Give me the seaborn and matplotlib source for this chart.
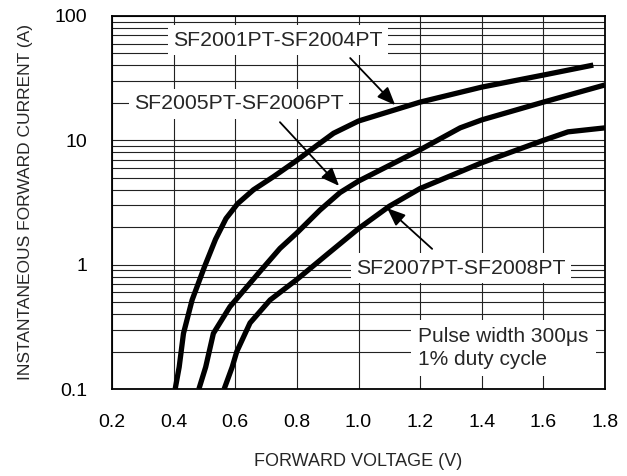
import matplotlib
matplotlib.use("Agg")
import matplotlib.pyplot as plt
from matplotlib.ticker import FixedLocator, FixedFormatter, LogLocator, NullFormatter
import seaborn as sns
import pandas as pd

# forward voltage (V) / instantaneous forward current (A)
vf_2001 = [0.405, 0.418, 0.432, 0.46, 0.5, 0.536, 0.57, 0.608, 0.659, 0.724, 0.8, 0.865, 0.919,
           1.0, 1.2, 1.4, 1.6, 1.762]
if_2001 = [0.1, 0.15, 0.28, 0.52, 0.96, 1.6, 2.35, 3.1, 4.0, 5.1, 6.9, 9.1, 11.4,
           14.3, 20.3, 26.8, 33.5, 40.3]

vf_2005 = [0.482, 0.504, 0.529, 0.583, 0.648, 0.68, 0.745, 0.8, 0.875, 0.94, 1.0,
           1.2, 1.33, 1.4, 1.6, 1.8]
if_2005 = [0.1, 0.15, 0.28, 0.46, 0.71, 0.88, 1.35, 1.8, 2.75, 3.8, 4.7,
           8.4, 12.6, 14.6, 20.3, 27.9]

vf_2007 = [0.564, 0.59, 0.605, 0.648, 0.713, 0.8, 0.9, 1.0, 1.1, 1.2, 1.4, 1.6, 1.68, 1.8]
if_2007 = [0.1, 0.15, 0.2, 0.34, 0.52, 0.76, 1.22, 1.95, 2.95, 4.1, 6.6, 10.0, 11.7, 12.6]

x_ticks = [0.2, 0.4, 0.6, 0.8, 1.0, 1.2, 1.4, 1.6, 1.8]
x_tick_labels = ["0.2", "0.4", "0.6", "0.8", "1.0", "1.2", "1.4", "1.6", "1.8"]
y_ticks = [0.1, 1, 10, 100]
y_tick_labels = ["0.1", "1", "10", "100"]

sns.set_style("white")
plt.rcParams["font.family"] = ["Liberation Sans", "DejaVu Sans"]

fig = plt.figure(figsize=(6.27, 4.76), dpi=100)
ax = fig.add_axes([112 / 627, 1 - 389 / 476, 493 / 627, 373 / 476])

series = [
    ("SF2001PT-SF2004PT", vf_2001, if_2001),
    ("SF2005PT-SF2006PT", vf_2005, if_2005),
    ("SF2007PT-SF2008PT", vf_2007, if_2007),
]
for name, vf, cur in series:
    df = pd.DataFrame({"vf": vf, "if": cur})
    sns.lineplot(data=df, x="vf", y="if", ax=ax, color="black", lw=3.8,
                 sort=False, zorder=5, solid_capstyle="butt", solid_joinstyle="round")

ax.set_yscale("log")
ax.set_xlim(0.2, 1.8)
ax.set_ylim(0.1, 100)

ax.xaxis.set_major_locator(FixedLocator(x_ticks))
ax.xaxis.set_major_formatter(FixedFormatter(x_tick_labels))
ax.yaxis.set_major_locator(FixedLocator(y_ticks))
ax.yaxis.set_major_formatter(FixedFormatter(y_tick_labels))
ax.yaxis.set_minor_locator(LogLocator(base=10, subs=range(2, 10)))
ax.yaxis.set_minor_formatter(NullFormatter())

ax.grid(True, which="major", axis="both", color="#222222", lw=0.8)
ax.grid(True, which="minor", axis="y", color="#222222", lw=0.8)
ax.tick_params(which="both", length=0, labelsize=14, pad=18, colors="black")
for s in ax.spines.values():
    s.set_color("black")
    s.set_linewidth(1.3)
    s.set_zorder(6)

ax.set_xlabel("FORWARD VOLTAGE (V)", fontsize=13)
ax.set_ylabel("INSTANTANEOUS FORWARD CURRENT (A)", fontsize=12.5)
ax.xaxis.set_label_coords(0.5, -0.172)
ax.yaxis.set_label_coords(-0.16, 0.5)

box = dict(facecolor="white", edgecolor="none", pad=4)
arrow = dict(arrowstyle="-|>,head_length=1.1,head_width=0.45", color="black", lw=1.3,
             shrinkA=0, shrinkB=0)

ax.text(0.739, 64.1, "SF2001PT-SF2004PT", fontsize=15.3, ha="center", va="center", bbox=box, zorder=4)
ax.annotate("", xy=(1.119, 19.2), xytext=(0.973, 45.9), arrowprops=arrow, zorder=7)

ax.text(0.612, 19.6, "SF2005PT-SF2006PT", fontsize=15.3, ha="center", va="center", bbox=box, zorder=4)
ax.annotate("", xy=(0.937, 4.3), xytext=(0.745, 14.0), arrowprops=arrow, zorder=7)

ax.text(1.333, 0.94, "SF2007PT-SF2008PT", fontsize=15.3, ha="center", va="center", bbox=box, zorder=4)
ax.annotate("", xy=(1.093, 2.85), xytext=(1.239, 1.34), arrowprops=arrow, zorder=7)

ax.text(1.194, 0.213, "Pulse width 300\u03bcs\n1% duty cycle", fontsize=15, ha="left", va="center",
        linespacing=1.25, bbox=dict(facecolor="white", edgecolor="none", pad=5), zorder=4)

fig.savefig("out.png", dpi=100)
